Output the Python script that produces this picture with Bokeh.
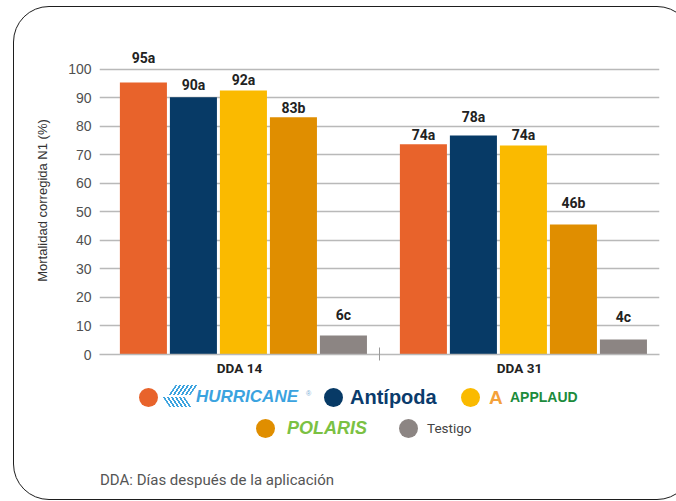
from bokeh.plotting import figure
from bokeh.models import (Range1d, FixedTicker, ColumnDataSource, LabelSet, Div, GridBox)
from bokeh.core.properties import value
from bokeh.embed import file_html
from bokeh.resources import INLINE

# ---------------- data ----------------
groups = ["DDA 14", "DDA 31"]
products = ["HURRICANE", "Antípoda", "APPLAUD", "POLARIS", "Testigo"]
values_dda14 = [95.4, 90.2, 92.6, 83.2, 6.7]
values_dda31 = [73.7, 76.8, 73.3, 45.6, 5.3]
labels_dda14 = ["95a", "90a", "92a", "83b", "6c"]
labels_dda31 = ["74a", "78a", "74a", "46b", "4c"]
y_ticks = [0, 10, 20, 30, 40, 50, 60, 70, 80, 90, 100]
footnote = "DDA: Días después de la aplicación"
y_title = "Mortalidad corregida N1 (%)"

# ---------------- styles ----------------
bar_colors = ["#E8632B", "#073A66", "#FABA00", "#E08E00", "#8C8583"]
logo_colors = ["#3BA3DF", "#0A3B6C", "#1C8B3C", "#7BC143", "#444444"]
label_gap_px = [[24, 12, 10, 9, 20], [9, 18, 10, 21, 22]]
bar_step, bar_width, bar_shift = 0.1786, 0.168, 0.014
grid_color = "#b9b9b9"

W, H = 676, 501

# ---------------- background (frame, legend, footnote) as HTML ----------------
legend_x = [148, 333, 470, 265, 408]
legend_y = [397, 397, 397, 428, 428]
text_x = [196, 350, 510, 287, 427]
text_font = ["italic bold 17px 'Liberation Sans'", "bold 20px 'Liberation Sans'",
             "bold 14px 'Liberation Sans'", "italic bold 18px 'Liberation Sans'",
             "13.5px 'Roboto'"]


def abs_text(x, y, txt, font, color):
    return (f'<span style="position:absolute;left:{x}px;top:{y}px;'
            f'transform:translateY(-50%);white-space:nowrap;line-height:1;'
            f'font:{font};color:{color}">{txt}</span>')


parts = ['<div style="position:relative;width:676px;height:501px;overflow:hidden;'
         'margin:0;padding:0">',
         '<div style="position:absolute;left:13px;top:6px;width:680px;height:494px;'
         'box-sizing:border-box;border:1.5px solid #1e1e1e;border-radius:36px"></div>']
for cx, cy, col in zip(legend_x, legend_y, bar_colors):
    parts.append(f'<div style="position:absolute;left:{cx - 9.5}px;top:{cy - 9.5}px;'
                 f'width:19px;height:19px;border-radius:50%;background:{col}"></div>')
# small decorative mark of the HURRICANE logo
parts.append('<div style="position:absolute;left:172px;top:385px;width:22px;height:10px;'
             'transform:skewX(-35deg);background:repeating-linear-gradient(90deg,'
             '#3BA3DF 0 2px,transparent 2px 4px)"></div>')
parts.append('<div style="position:absolute;left:166px;top:397px;width:22px;height:10px;'
             'transform:skewX(35deg);background:repeating-linear-gradient(90deg,'
             '#3BA3DF 0 2px,transparent 2px 4px)"></div>')
for tx, ty, name, col, font in zip(text_x, legend_y, products, logo_colors, text_font):
    parts.append(abs_text(tx, ty, name, font, col))
parts.append(abs_text(306, 393, "®", "7px 'Liberation Sans'", "#7aaed6"))
parts.append(abs_text(489, 398, "A", "bold 19px 'Liberation Sans'", "#F4A13A"))
parts.append(abs_text(100, 480, footnote, "15px 'Roboto'", "#555555"))
parts.append('</div>')

bg = Div(text="".join(parts), width=W, height=H, margin=0)

# ---------------- chart ----------------
p = figure(width=W, height=H, output_backend="svg", toolbar_location=None,
           x_range=Range1d(0, 2), y_range=Range1d(0, 108),
           min_border_left=99, min_border_right=17, min_border_top=46,
           min_border_bottom=147)
p.outline_line_color = None
p.background_fill_alpha = 0
p.border_fill_alpha = 0

xs, tops, cols, texts, gaps = [], [], [], [], []
for gi, (vals, labs, gp) in enumerate(zip([values_dda14, values_dda31],
                                          [labels_dda14, labels_dda31], label_gap_px)):
    for k, (v, l, g) in enumerate(zip(vals, labs, gp)):
        xs.append(gi + 0.5 + (k - 2) * bar_step + bar_shift)
        tops.append(v)
        cols.append(bar_colors[k])
        texts.append(l)
        gaps.append(g)

src = ColumnDataSource(dict(x=xs, top=tops, color=cols, label=texts, gap=gaps))
p.vbar(x="x", top="top", bottom=0, width=bar_width, fill_color="color",
       line_color=None, source=src)

p.add_layout(LabelSet(x="x", y="top", text="label", y_offset="gap", source=src,
                      text_align="center", text_baseline="middle",
                      text_font=value("Roboto"), text_font_size="14px",
                      text_font_style="bold", text_color="#222222"))

yax = p.yaxis[0]
yax.ticker = FixedTicker(ticks=y_ticks)
yax.axis_line_color = None
yax.major_tick_line_color = None
yax.minor_tick_line_color = None
yax.major_tick_in = 0
yax.major_tick_out = 0
yax.minor_tick_in = 0
yax.minor_tick_out = 0
yax.major_label_standoff = 8
yax.major_label_text_font = "Liberation Sans"
yax.major_label_text_font_size = "14px"
yax.major_label_text_color = "#505050"
yax.axis_label = y_title
yax.axis_label_text_font = "Liberation Sans"
yax.axis_label_text_font_size = "13px"
yax.axis_label_text_font_style = "normal"
yax.axis_label_text_color = "#333333"
yax.axis_label_standoff = 15

p.ygrid.ticker = FixedTicker(ticks=y_ticks)
p.ygrid.grid_line_color = grid_color
p.ygrid.grid_line_width = 1.5
p.xgrid.grid_line_color = None

xax = p.xaxis[0]
xax.ticker = FixedTicker(ticks=[i + 0.5 for i in range(len(groups))],
                         minor_ticks=[float(i) for i in range(1, len(groups))])
xax.major_label_overrides = {i + 0.5: g for i, g in enumerate(groups)}
xax.axis_line_color = grid_color
xax.axis_line_width = 1.5
xax.major_tick_line_color = None
xax.major_tick_in = 0
xax.major_tick_out = 0
xax.minor_tick_line_color = "#9a9a9a"
xax.minor_tick_in = 7
xax.minor_tick_out = 6
xax.major_label_standoff = -1
xax.major_label_text_font = "Roboto"
xax.major_label_text_font_size = "13.5px"
xax.major_label_text_font_style = "bold"
xax.major_label_text_color = "#222222"

layout = GridBox(children=[(bg, 0, 0), (p, 0, 0)])

open("out.html", "w").write(file_html(layout, INLINE))
